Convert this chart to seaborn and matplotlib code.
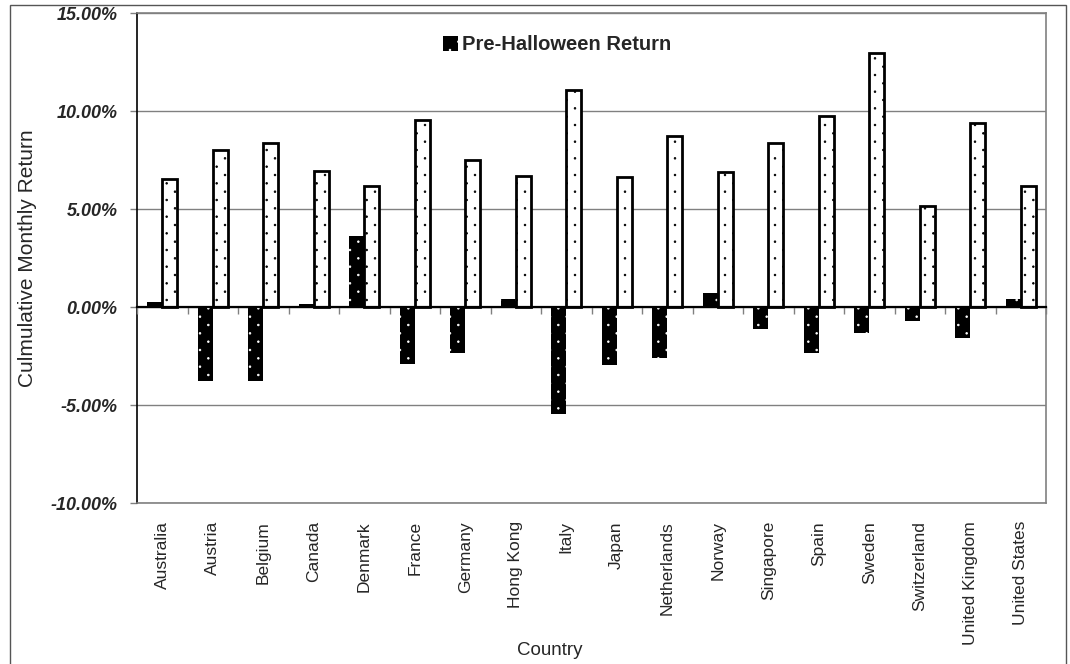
import warnings
import numpy as np
import pandas as pd
import matplotlib
matplotlib.use("Agg")
import matplotlib.pyplot as plt
import matplotlib.hatch as mhatch
from matplotlib.path import Path
from matplotlib.patches import Patch, Rectangle
from matplotlib.ticker import FuncFormatter, MultipleLocator
import seaborn as sns

warnings.filterwarnings("ignore", category=matplotlib.MatplotlibDeprecationWarning)

# Cumulative monthly returns (%) per country
countries = ["Australia", "Austria", "Belgium", "Canada", "Denmark", "France",
             "Germany", "Hong Kong", "Italy", "Japan", "Netherlands", "Norway",
             "Singapore", "Spain", "Sweden", "Switzerland", "United Kingdom",
             "United States"]
pre_halloween = [0.25, -3.80, -3.78, 0.16, 3.60, -2.93, -2.37, 0.43, -5.45,
                 -2.98, -2.60, 0.72, -1.12, -2.33, -1.31, -0.73, -1.60, 0.40]
post_halloween = [6.55, 8.00, 8.36, 6.93, 6.17, 9.55, 7.50, 6.67, 11.07,
                  6.63, 8.73, 6.90, 8.37, 9.77, 12.96, 5.16, 9.40, 6.15]
series = ["Pre-Halloween Return", "Post-Halloween Return"]
y_ticks = [-10, -5, 0, 5, 10, 15]


class StaggeredDots(mhatch.HatchPatternBase):
    """Small filled dots on a staggered grid, selected with the ':' hatch."""
    rows, cols, radius = 12, 6, 0.008

    def __init__(self, hatch, density):
        circle = Path.unit_circle()
        self.shape_vertices = circle.vertices
        self.shape_codes = circle.codes
        on = hatch.count(":") > 0
        self.num_shapes = (self.rows + 1) * (self.cols + 1) if on else 0
        self.num_vertices = self.num_shapes * len(self.shape_vertices)

    def set_vertices_and_codes(self, vertices, codes):
        verts = self.shape_vertices * self.radius
        n = len(verts)
        cursor = 0
        for r in range(self.rows + 1):
            shift = 0.5 / self.cols if r % 2 else 0.0
            for c in range(self.cols + 1):
                vertices[cursor:cursor + n] = verts + (c / self.cols + shift,
                                                       r / self.rows)
                codes[cursor:cursor + n] = self.shape_codes
                cursor += n


mhatch._hatch_types.append(StaggeredDots)

df = pd.DataFrame({
    "Country": countries * 2,
    "Return": pre_halloween + post_halloween,
    "Series": [series[0]] * len(countries) + [series[1]] * len(countries),
})

sns.set_style("white")
plt.rcParams["font.family"] = ["Liberation Sans", "DejaVu Sans"]
plt.rcParams["hatch.linewidth"] = 0.6

W, H = 1070, 664
fig = plt.figure(figsize=(W / 100, H / 100), dpi=100)
ax = fig.add_axes([137 / W, 1 - 503 / H, (1046 - 137) / W, (503 - 13) / H])

sns.barplot(data=df, x="Country", y="Return", hue="Series", order=countries,
            hue_order=series, palette=["black", "white"], saturation=1,
            width=0.6, gap=0, edgecolor="black", linewidth=2, legend=False,
            errorbar=None, ax=ax)

# dark bars: white dot pattern; light bars: black dot pattern with thick outline
for bar in ax.containers[0]:
    bar.set_edgecolor("white")
    bar.set_linewidth(0)
    bar.set_hatch(":")
    bar.set_zorder(2)
for bar in ax.containers[1]:
    bar.set_edgecolor("black")
    bar.set_linewidth(2)
    bar.set_hatch(":")
    bar.set_zorder(2)

ymin, ymax = y_ticks[0], y_ticks[-1]
ax.set_ylim(ymin, ymax)
ax.set_xlim(-0.5, len(countries) - 0.5)
ax.yaxis.set_major_locator(MultipleLocator(5))
ax.yaxis.set_major_formatter(FuncFormatter(lambda v, p: f"{v:.2f}%"))
ax.grid(axis="y", color="#808080", linewidth=1)
ax.set_axisbelow(True)

for lab in ax.get_yticklabels():
    lab.set_fontweight("bold")
    lab.set_fontstyle("italic")
ax.tick_params(axis="y", which="major", direction="out", length=5, width=1,
               color="#808080", labelsize=13, pad=9, left=True)
ax.tick_params(axis="x", length=0, labelsize=12.5, pad=13, labelrotation=90)

for side in ["top", "right", "bottom"]:
    ax.spines[side].set_color("#808080")
    ax.spines[side].set_linewidth(1.2)
ax.spines["left"].set_color("black")
ax.spines["left"].set_linewidth(1.2)

# category axis crossing at zero, with ticks between countries
zero_frac = (0 - ymin) / (ymax - ymin)
sec = ax.secondary_xaxis(zero_frac)
sec.set_xticks(np.arange(len(countries) + 1) - 0.5)
sec.set_xticklabels([])
sec.tick_params(direction="out", length=5, width=1, color="#808080")
sec.spines["bottom"].set_color("black")
sec.spines["bottom"].set_linewidth(1.6)
sec.set_zorder(3)

ax.set_ylabel("Culmulative Monthly Return", fontsize=15)
ax.yaxis.set_label_coords((37 - 137) / 909, 0.5)
ax.set_xlabel("Country", fontsize=13.5)
ax.xaxis.set_label_coords((550 - 137) / 909, (503 - 642) / 490)

handle = Patch(facecolor="black", edgecolor="white", hatch=":", linewidth=0)
ax.legend([handle], [series[0]], loc="center left",
          bbox_to_anchor=(443 / W, 1 - 45 / H), bbox_transform=fig.transFigure,
          frameon=False, handlelength=0.72, handleheight=0.72,
          handletextpad=0.2, borderaxespad=0, borderpad=0,
          prop={"weight": "bold", "size": 14.5})

# chart-area border
fig.add_artist(Rectangle((9.5 / W, -0.1), (1066 - 9.5) / W, 1.1 - 5.5 / H,
                         transform=fig.transFigure, fill=False,
                         edgecolor="#555555", linewidth=1))

fig.savefig("out.png", dpi=100, facecolor="white")
